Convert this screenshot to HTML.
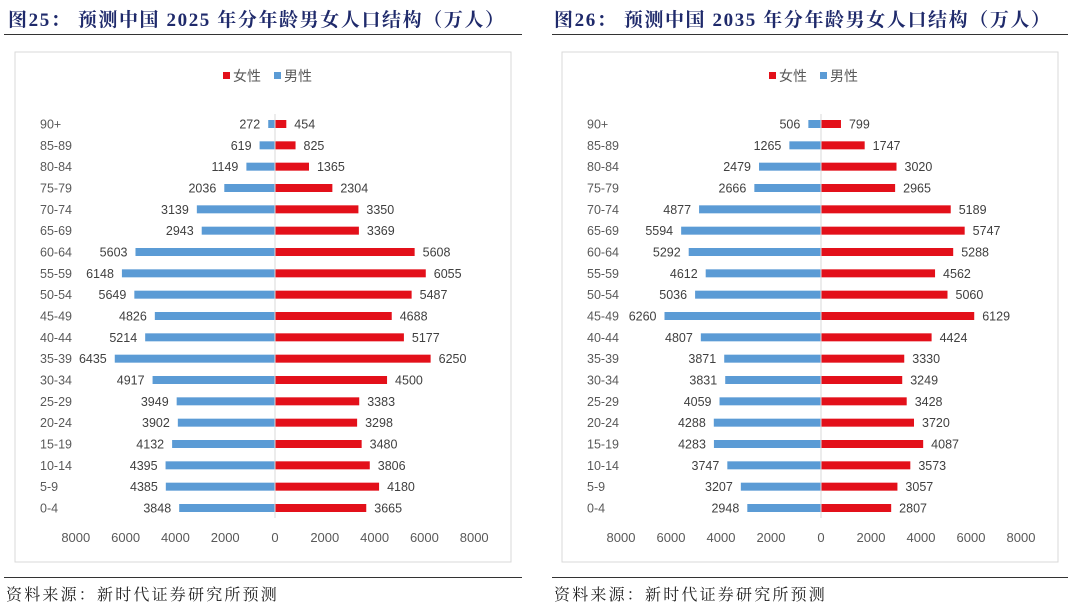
<!DOCTYPE html>
<html><head><meta charset="utf-8">
<style>
body{margin:0;width:1080px;height:607px;background:#fff;overflow:hidden;position:relative;font-family:"Liberation Sans","Noto Sans CJK SC",sans-serif;}
.title{position:absolute;top:5px;font-family:"Liberation Serif","Noto Serif CJK SC",serif;font-weight:bold;font-size:19px;letter-spacing:1.6px;color:#1f2a6b;white-space:nowrap;}
.hr{position:absolute;height:1px;background:#333;}
.src{position:absolute;top:582px;font-family:"Liberation Serif","Noto Serif CJK SC",serif;font-size:16px;letter-spacing:2.2px;color:#222;}
svg{position:absolute;left:0;top:0;}
</style></head><body>
<div class="title" style="left:8px">图25：&nbsp;预测中国 2025 年分年龄男女人口结构（万人）</div>
<div class="hr" style="left:4px;width:518px;top:34px"></div>
<div class="title" style="left:554px">图26：&nbsp;预测中国 2035 年分年龄男女人口结构（万人）</div>
<div class="hr" style="left:552px;width:516px;top:34px"></div>
<div class="hr" style="left:4px;width:518px;top:577px"></div>
<div class="hr" style="left:552px;width:516px;top:577px"></div>
<div class="src" style="left:6px">资料来源：新时代证券研究所预测</div>
<div class="src" style="left:554px">资料来源：新时代证券研究所预测</div>
<svg id="svg" width="1080" height="607"></svg>
<script>
const categories=["90+","85-89","80-84","75-79","70-74","65-69","60-64","55-59","50-54","45-49","40-44","35-39","30-34","25-29","20-24","15-19","10-14","5-9","0-4"];
const male2025=[272,619,1149,2036,3139,2943,5603,6148,5649,4826,5214,6435,4917,3949,3902,4132,4395,4385,3848];
const female2025=[454,825,1365,2304,3350,3369,5608,6055,5487,4688,5177,6250,4500,3383,3298,3480,3806,4180,3665];
const male2035=[506,1265,2479,2666,4877,5594,5292,4612,5036,6260,4807,3871,3831,4059,4288,4283,3747,3207,2948];
const female2035=[799,1747,3020,2965,5189,5747,5288,4562,5060,6129,4424,3330,3249,3428,3720,4087,3573,3057,2807];
const ticks=[8000,6000,4000,2000,0,2000,4000,6000,8000];
const tickVals=[-8000,-6000,-4000,-2000,0,2000,4000,6000,8000];
const NS="http://www.w3.org/2000/svg";
const svg=document.getElementById('svg');
function mk(t,a,p){const e=document.createElementNS(NS,t);for(const k in a)e.setAttribute(k,a[k]);(p||svg).appendChild(e);return e;}
function chart(ox,boxL,boxR,scale,male,female,id){
  const g=mk('g',{});
  
  
  const box=mk('rect',{x:boxL,y:52,width:boxR-boxL,height:510,fill:'#fff',stroke:'#d9d9d9'},g);
  
  
  const x=v=>ox+v*scale;
  const y=i=>124+i*(384/(categories.length-1));
  const lg=mk('g',{},g);
  
  
  mk('rect',{x:ox-52,y:72,width:7,height:7,fill:'#e3101a'},lg);
  const t1=mk('text',{x:ox-42,y:81,'font-size':14,fill:'#595959'},lg);t1.textContent='女性';
  mk('rect',{x:ox-1,y:72,width:7,height:7,fill:'#5b9bd5'},lg);
  const t2=mk('text',{x:ox+9,y:81,'font-size':14,fill:'#595959'},lg);t2.textContent='男性';
  categories.forEach((c,i)=>{
    const yy=y(i);
    const cl=mk('text',{x:boxL+25,y:yy+4.5,'font-size':12.5,fill:'#595959'},g);cl.textContent=c;
    
    
    const bm=mk('rect',{x:x(-male[i]),y:yy-4,width:male[i]*scale,height:8,fill:'#5b9bd5'},g);
    
    
    const bf=mk('rect',{x:ox,y:yy-4,width:female[i]*scale,height:8,fill:'#e3101a'},g);
    
    
    const lm=mk('text',{x:x(-male[i])-8,y:yy+4.5,'font-size':12.5,fill:'#404040','text-anchor':'end'},g);lm.textContent=male[i];
    
    
    const lf=mk('text',{x:x(female[i])+8,y:yy+4.5,'font-size':12.5,fill:'#404040'},g);lf.textContent=female[i];
    
    
  });
  const ax=mk('line',{x1:ox,x2:ox,y1:114,y2:518,stroke:'#d9d9d9'},g);
  
  
  tickVals.forEach((v,i)=>{
    const t=mk('text',{x:x(v),y:542,'font-size':13,fill:'#595959','text-anchor':'middle'},g);t.textContent=ticks[i];
    
    
  });
}
chart(275,15,511,0.0249,male2025,female2025,'pyramid-2025');
chart(821,562,1058,0.025,male2035,female2035,'pyramid-2035');
</script>
</body></html>
